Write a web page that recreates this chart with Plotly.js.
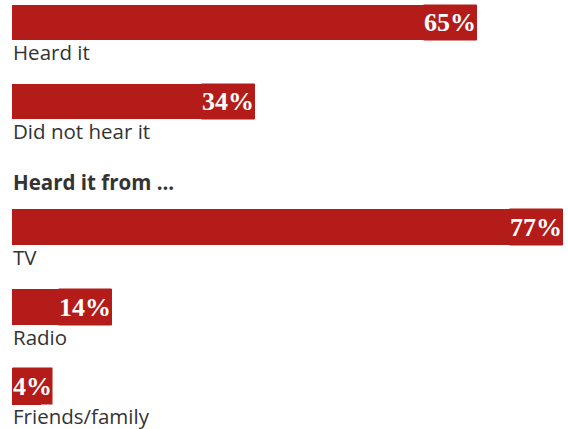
<!DOCTYPE html>
<html><head><meta charset="utf-8">
<script src="https://cdn.plot.ly/plotly-3.0.1.min.js"></script>
<style>html,body{margin:0;padding:0;background:#fff}#chart{width:568px;height:429px}</style>
</head><body><div id="chart"></div>
<script>
const topCats = ["Heard it", "Did not hear it"];
const topVals = [65, 34];
const headerText = "Heard it from ...";
const srcCats = ["TV", "Radio", "Friends/family"];
const srcVals = [77, 14, 4];

const RED = "#b31c18";
const TXT = "#333333";
const minFit = 6;

function barTrace(cats, vals, yax, w) {
  return {type: "bar", orientation: "h", y: cats, x: vals, yaxis: yax, xaxis: "x",
    width: w, marker: {color: RED, line: {width: 0}}, hoverinfo: "none", showlegend: false};
}

const anns = [];
function addAnns(cats, vals, yref, barPx) {
  cats.forEach((c, i) => {
    const v = vals[i];
    const small = v < minFit;
    anns.push({xref: "x", yref: yref, x: small ? 0 : v, y: c,
      xanchor: small ? "left" : "right", yanchor: "middle",
      text: v + "%", showarrow: false,
      height: barPx, valign: "middle", bgcolor: RED, borderpad: 0,
      font: {family: "Liberation Serif", size: 26, color: "#ffffff", weight: "bold"}});
    anns.push({xref: "paper", yref: yref, x: 0, y: c, xanchor: "left", yanchor: "top",
      yshift: -barPx / 2 + 3, text: c, showarrow: false, borderpad: 0,
      font: {family: "Open Sans", size: 20.5, color: TXT}});
  });
}
addAnns(topCats, topVals, "y", 35);
addAnns(srcCats, srcVals, "y2", 36);
anns.push({xref: "paper", yref: "paper", x: 0, y: 1 - 182 / 429, xanchor: "left", yanchor: "middle",
  text: headerText, showarrow: false, borderpad: 0,
  font: {family: "Open Sans", size: 20.5, color: TXT, weight: "bold"}});

const layout = {
  width: 568, height: 429,
  margin: {l: 12, r: 5, t: 0, b: 0, pad: 0},
  paper_bgcolor: "#fff", plot_bgcolor: "#fff",
  bargap: 0,
  xaxis: {range: [0, 77], visible: false, fixedrange: true},
  yaxis: {domain: [1 - 141 / 429, 1], range: [1.5, -0.285], type: "category",
    categoryarray: topCats, visible: false, anchor: "x", fixedrange: true},
  yaxis2: {domain: [0, 1 - 160 / 429], range: [2.533, -0.84], type: "category",
    categoryarray: srcCats, visible: false, anchor: "x", fixedrange: true},
  annotations: anns
};

Plotly.newPlot("chart", [barTrace(topCats, topVals, "y", 0.443), barTrace(srcCats, srcVals, "y2", 0.452)],
  layout, {staticPlot: true, displayModeBar: false});
</script></body></html>
